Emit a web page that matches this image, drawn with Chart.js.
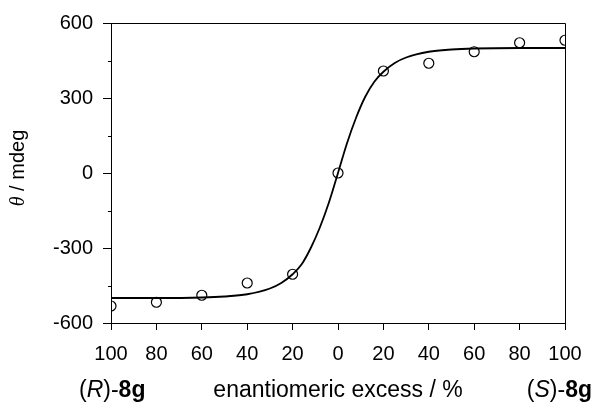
<!DOCTYPE html>
<html>
<head>
<meta charset="utf-8">
<script src="https://cdn.jsdelivr.net/npm/chart.js@4/dist/chart.umd.min.js"></script>
<style>
  html, body { margin: 0; padding: 0; background: #fff; }
  canvas { display: block; }
</style>
</head>
<body>
<canvas id="eeChart" width="595" height="415"></canvas>
<script>
  "use strict";

  // measured points (ee %, theta mdeg); negative ee = (R)
  const eeValues = [-100, -80, -60, -40, -20, 0, 20, 40, 60, 80, 100];
  const thetaValues = [-532, -517, -489, -440, -405, 0, 408, 439, 485, 521, 531];

  // fitted curve
  const fitEe = [-100, -80, -60, -50, -40, -30, -25, -20, -16, -12, -8, -4, 0, 4, 8, 12, 16, 20, 25, 30, 40, 50, 60, 80, 100];
  const fitTheta = [-500, -500, -498, -494, -485, -462, -440, -405, -365, -300, -218, -118, 0, 120, 222, 305, 365, 405, 440, 462, 485, 494, 498, 500, 500];

  const yMajorStep = 300;
  const yTickStep = 150;
  const xTickStep = 20;

  const FONT = "'Liberation Sans', Arial, Helvetica, sans-serif";
  const SERIF = "'Liberation Serif', 'Times New Roman', serif";

  const toXY = (xs, ys) => xs.map((x, i) => ({ x, y: ys[i] }));

  // draws frame, minor ticks and the text around the plot
  const decorations = {
    id: "decorations",
    afterDraw(chart) {
      const { ctx, chartArea: area, scales } = chart;
      ctx.save();
      ctx.strokeStyle = "#000";
      ctx.lineWidth = 1;
      ctx.beginPath();
      ctx.moveTo(area.left, area.top + 0.5);
      ctx.lineTo(area.right + 0.5, area.top + 0.5);
      ctx.lineTo(area.right + 0.5, area.bottom);
      ctx.stroke();

      // minor ticks on y
      ctx.beginPath();
      scales.y.ticks.forEach((tick) => {
        if (tick.value % yMajorStep === 0) return;
        const y = Math.round(scales.y.getPixelForValue(tick.value)) + 0.5;
        ctx.moveTo(area.left - 3, y);
        ctx.lineTo(area.left, y);
      });
      ctx.stroke();

      ctx.fillStyle = "#000";
      ctx.textBaseline = "alphabetic";

      // y title
      ctx.save();
      ctx.translate(24, 168);
      ctx.rotate(-Math.PI / 2);
      ctx.font = `italic 20px ${SERIF}`;
      const thW = ctx.measureText("θ").width;
      ctx.font = `20px ${FONT}`;
      const restW = ctx.measureText(" / mdeg").width;
      const tx = -(thW + restW) / 2;
      ctx.textAlign = "left";
      ctx.font = `italic 20px ${SERIF}`;
      ctx.fillText("θ", tx, 0);
      ctx.font = `20px ${FONT}`;
      ctx.fillText(" / mdeg", tx + thW, 0);
      ctx.restore();

      // bottom labels
      const baseline = 397;
      const size = 23;
      const drawRuns = (runs, startX) => {
        let x = startX;
        runs.forEach(([text, style]) => {
          ctx.font = `${style} ${size}px ${FONT}`;
          ctx.fillText(text, x, baseline);
          x += ctx.measureText(text).width;
        });
      };
      const runsWidth = (runs) => runs.reduce((sum, [text, style]) => {
        ctx.font = `${style} ${size}px ${FONT}`;
        return sum + ctx.measureText(text).width;
      }, 0);

      ctx.textAlign = "left";
      const rLabel = [["(", "normal"], ["R", "italic"], [")-", "normal"], ["8g", "bold"]];
      const sLabel = [["(", "normal"], ["S", "italic"], [")-", "normal"], ["8g", "bold"]];
      drawRuns(rLabel, 79);
      drawRuns(sLabel, 592 - runsWidth(sLabel));

      ctx.font = `${size}px ${FONT}`;
      ctx.textAlign = "center";
      ctx.fillText("enantiomeric excess / %", scales.x.getPixelForValue(0), baseline);
      ctx.restore();
    }
  };

  new Chart(document.getElementById("eeChart"), {
    type: "scatter",
    data: {
      datasets: [
        {
          label: "fit",
          type: "line",
          data: toXY(fitEe, fitTheta),
          borderColor: "#000",
          borderWidth: 1.8,
          pointRadius: 0,
          cubicInterpolationMode: "monotone",
          fill: false,
          order: 2
        },
        {
          label: "measured",
          data: toXY(eeValues, thetaValues),
          pointStyle: "circle",
          pointRadius: 5,
          pointBorderWidth: 1.2,
          pointBorderColor: "#000",
          pointBackgroundColor: "rgba(0,0,0,0)",
          order: 1
        }
      ]
    },
    options: {
      responsive: false,
      animation: false,
      layout: { padding: { top: 23, right: 30, bottom: 0, left: 0 } },
      plugins: { legend: { display: false }, tooltip: { enabled: false } },
      scales: {
        x: {
          type: "linear",
          min: -100,
          max: 100,
          afterFit: (scale) => { scale.height = 92; },
          border: { color: "#000", width: 1 },
          grid: { drawOnChartArea: false, tickLength: 7, tickColor: "#000" },
          ticks: {
            stepSize: xTickStep,
            autoSkip: false,
            maxRotation: 0,
            padding: 12,
            color: "#000",
            font: { family: FONT, size: 20 },
            callback: (value) => Math.abs(value)
          }
        },
        y: {
          min: -600,
          max: 600,
          afterFit: (scale) => { scale.width = 111; },
          border: { color: "#000", width: 1 },
          grid: {
            drawOnChartArea: false,
            tickLength: 8,
            tickColor: (ctx) => (ctx.tick && ctx.tick.value % yMajorStep === 0 ? "#000" : "rgba(0,0,0,0)")
          },
          ticks: {
            stepSize: yTickStep,
            autoSkip: false,
            padding: 10,
            color: "#000",
            font: { family: FONT, size: 20 },
            callback: (value) => (value % yMajorStep === 0 ? String(value) : "")
          }
        }
      }
    },
    plugins: [decorations]
  });
</script>
</body>
</html>
